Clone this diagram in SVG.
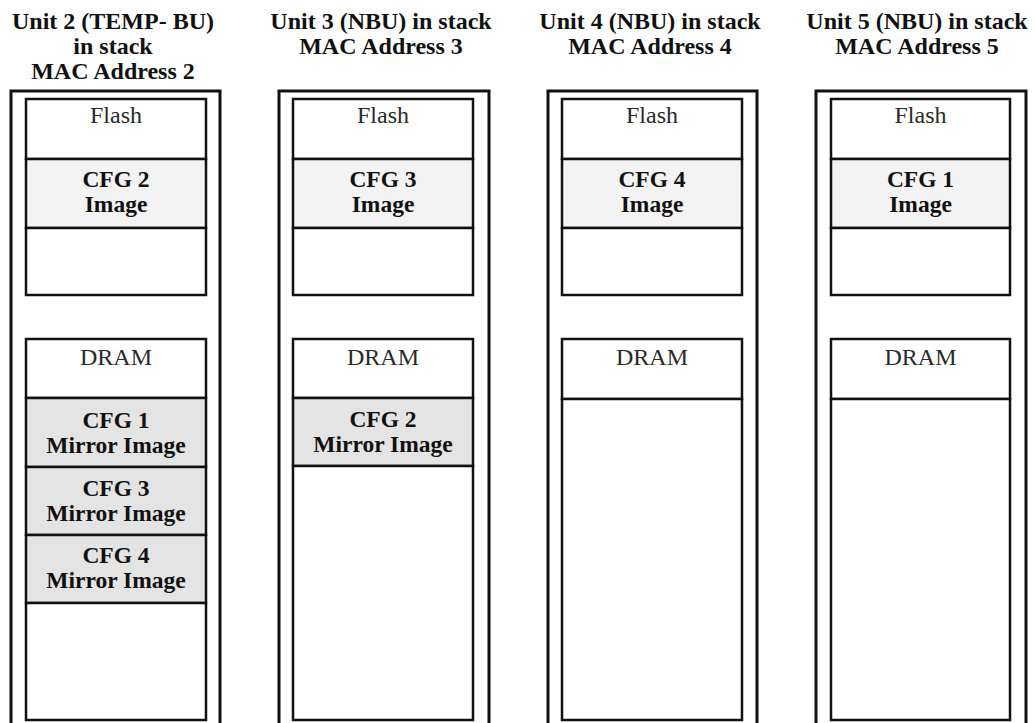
<svg xmlns="http://www.w3.org/2000/svg" width="1035" height="723" viewBox="0 0 1035 723">
<style>
.outer{fill:none;stroke:#111;stroke-width:3}
.box{fill:#fff;stroke:#111;stroke-width:2.5}
.img{fill:#f3f3f3;stroke:#111;stroke-width:2.5}
.mir{fill:#e4e4e4;stroke:#111;stroke-width:2.5}
.title{font-family:"Liberation Serif","Times New Roman",serif;font-weight:bold;font-size:24px;fill:#111;text-anchor:middle}
.lbl{font-family:"Liberation Serif","Times New Roman",serif;font-size:24px;fill:#2a2a2a;text-anchor:middle}
.bl{font-family:"Liberation Serif","Times New Roman",serif;font-weight:bold;font-size:23.5px;fill:#111;text-anchor:middle}
</style>
<rect width="1035" height="723" fill="#fff"/>

<g id="unit2">
  <text class="title" x="113" y="29">Unit 2 (TEMP- BU)</text>
  <text class="title" x="113" y="54">in stack</text>
  <text class="title" x="113" y="79">MAC Address 2</text>
  <path class="outer" d="M11,730 V91 H220 V730"/>
  <g id="unit2-flash">
    <rect class="box" x="26" y="99" width="180" height="60"/>
    <text class="lbl" x="116" y="123">Flash</text>
    <rect class="img" x="26" y="159" width="180" height="69"/>
    <text class="bl" x="116" y="187">CFG 2</text>
    <text class="bl" x="116" y="212">Image</text>
    <rect class="box" x="26" y="228" width="180" height="67"/>
  </g>
  <g id="unit2-dram">
    <rect class="box" x="26" y="339" width="180" height="59"/>
    <text class="lbl" x="116" y="365">DRAM</text>
    <rect class="mir" x="26" y="398" width="180" height="69"/>
    <text class="bl" x="116" y="428">CFG 1</text>
    <text class="bl" x="116" y="453">Mirror Image</text>
    <rect class="mir" x="26" y="467" width="180" height="68"/>
    <text class="bl" x="116" y="496">CFG 3</text>
    <text class="bl" x="116" y="521">Mirror Image</text>
    <rect class="mir" x="26" y="535" width="180" height="68"/>
    <text class="bl" x="116" y="563">CFG 4</text>
    <text class="bl" x="116" y="588">Mirror Image</text>
    <rect class="box" x="26" y="603" width="180" height="117"/>
  </g>
</g>

<g id="unit3">
  <text class="title" x="381" y="29">Unit 3 (NBU) in stack</text>
  <text class="title" x="381" y="54">MAC Address 3</text>
  <path class="outer" d="M279,730 V91 H489 V730"/>
  <g id="unit3-flash">
    <rect class="box" x="293" y="99" width="180" height="60"/>
    <text class="lbl" x="383" y="123">Flash</text>
    <rect class="img" x="293" y="159" width="180" height="69"/>
    <text class="bl" x="383" y="187">CFG 3</text>
    <text class="bl" x="383" y="212">Image</text>
    <rect class="box" x="293" y="228" width="180" height="67"/>
  </g>
  <g id="unit3-dram">
    <rect class="box" x="293" y="339" width="180" height="59"/>
    <text class="lbl" x="383" y="365">DRAM</text>
    <rect class="mir" x="293" y="398" width="180" height="68"/>
    <text class="bl" x="383" y="427">CFG 2</text>
    <text class="bl" x="383" y="452">Mirror Image</text>
    <rect class="box" x="293" y="466" width="180" height="254"/>
  </g>
</g>

<g id="unit4">
  <text class="title" x="650" y="29">Unit 4 (NBU) in stack</text>
  <text class="title" x="650" y="54">MAC Address 4</text>
  <path class="outer" d="M548,730 V91 H757 V730"/>
  <g id="unit4-flash">
    <rect class="box" x="562" y="99" width="180" height="60"/>
    <text class="lbl" x="652" y="123">Flash</text>
    <rect class="img" x="562" y="159" width="180" height="69"/>
    <text class="bl" x="652" y="187">CFG 4</text>
    <text class="bl" x="652" y="212">Image</text>
    <rect class="box" x="562" y="228" width="180" height="67"/>
  </g>
  <g id="unit4-dram">
    <rect class="box" x="562" y="339" width="180" height="60"/>
    <text class="lbl" x="652" y="365">DRAM</text>
    <rect class="box" x="562" y="399" width="180" height="321"/>
  </g>
</g>

<g id="unit5">
  <text class="title" x="917" y="29">Unit 5 (NBU) in stack</text>
  <text class="title" x="917" y="54">MAC Address 5</text>
  <path class="outer" d="M816,730 V91 H1026 V730"/>
  <g id="unit5-flash">
    <rect class="box" x="831" y="99" width="179" height="60"/>
    <text class="lbl" x="920.5" y="123">Flash</text>
    <rect class="img" x="831" y="159" width="179" height="69"/>
    <text class="bl" x="920.5" y="187">CFG 1</text>
    <text class="bl" x="920.5" y="212">Image</text>
    <rect class="box" x="831" y="228" width="179" height="67"/>
  </g>
  <g id="unit5-dram">
    <rect class="box" x="831" y="339" width="179" height="60"/>
    <text class="lbl" x="920.5" y="365">DRAM</text>
    <rect class="box" x="831" y="399" width="179" height="321"/>
  </g>
</g>

<g id="connectors"/>
</svg>
